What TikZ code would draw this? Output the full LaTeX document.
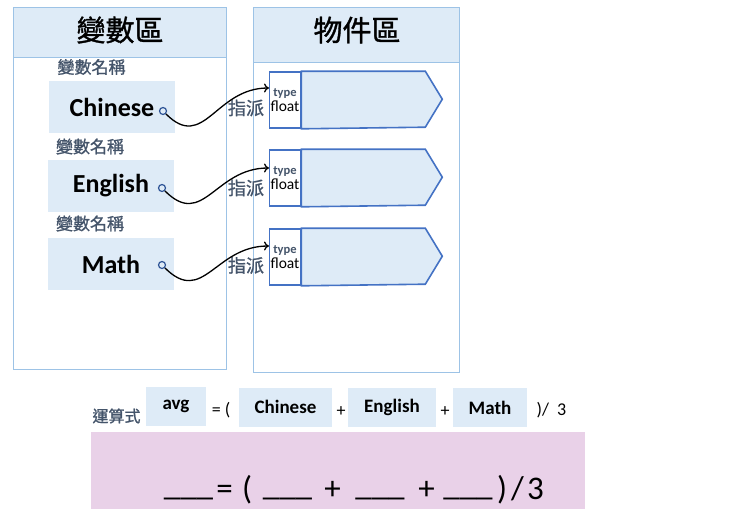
\documentclass[tikz,border=0pt]{standalone}
\usepackage{fontspec}
\setmainfont{Carlito}
\newfontfamily\cjk{Noto Sans CJK TC}[FakeBold=1.2]
\usetikzlibrary{calc,arrows.meta}

\definecolor{paneline}{HTML}{9DC3E6}
\definecolor{palefill}{HTML}{DEEBF7}
\definecolor{objline}{HTML}{4472C4}
\definecolor{labelgray}{HTML}{44546A}
\definecolor{dotblue}{HTML}{2F5597}
\definecolor{pinkfill}{HTML}{E9D1E8}

\tikzset{
 headtxt/.style={font=\cjk\fontsize{29}{29}\selectfont},
 namelabel/.style={font=\cjk\fontsize{17}{17}\selectfont, text=labelgray},
 varbox/.style={fill=palefill, minimum width=126pt, minimum height=52pt, inner sep=0pt, font=\fontsize{26}{26}\selectfont\bfseries},
 refdot/.style={circle, draw=dotblue, line width=1.2pt, minimum size=7pt, inner sep=0pt, fill=palefill},
 typecell/.style={draw=objline, fill=white, line width=1.6pt, minimum width=31pt, minimum height=56pt, inner sep=0pt, align=center},
 valbox/.style={draw=objline, fill=palefill, line width=1.6pt, line join=miter},
 assign/.style={-{To[length=5pt,width=9pt]}, line width=1.3pt},
 eqbox/.style={fill=palefill, minimum height=39pt, inner sep=0pt, font=\fontsize{19}{19}\selectfont\bfseries},
 eqtxt/.style={font=\fontsize{18}{18}\selectfont},
 bigtxt/.style={font=\fontsize{33}{33}\selectfont, anchor=base},
}

\begin{document}
\begin{tikzpicture}[x=1pt,y=-1pt]
 \useasboundingbox (0,0) rectangle (741,522);

 % variable area
 \filldraw[fill=palefill, draw=paneline] (13,7) rectangle (226,57);
 \draw[paneline] (13,7) rectangle (226,369);
 \node[headtxt] (varhead) at (120,30) {變數區};

 % object area
 \filldraw[fill=palefill, draw=paneline] (253,7) rectangle (459,62);
 \draw[paneline] (253,7) rectangle (459,372);
 \node[headtxt] (objhead) at (357,30) {物件區};

 % variable names
 \node[namelabel] (lab1) at (91.5,67) {變數名稱};
 \node[varbox] (chinese) at (112,107) {Chinese};
 \node[refdot] (d1) at (163,111) {};

 \node[namelabel] (lab2) at (90,146.5) {變數名稱};
 \node[varbox] (english) at (111,186) {English};
 \node[refdot] (d2) at (162,188) {};

 \node[namelabel] (lab3) at (90,223.5) {變數名稱};
 \node[varbox] (math) at (111,264) {Math};
 \node[refdot] (d3) at (162,265) {};

 % objects
 \node[typecell] (t1) at (285,100) {\textcolor{labelgray}{\fontsize{12.5}{14}\selectfont\bfseries type}\\[1pt]{\fontsize{15.5}{16}\selectfont float}};
 \filldraw[valbox] (t1.north east) -- ++(124,0) -- ++(17,28) -- ++(-17,28) -- (t1.south east) -- cycle;
 \coordinate (a1) at (269,88);

 \node[typecell] (t2) at (285,178) {\textcolor{labelgray}{\fontsize{12.5}{14}\selectfont\bfseries type}\\[1pt]{\fontsize{15.5}{16}\selectfont float}};
 \filldraw[valbox] (t2.north east) -- ++(124,0) -- ++(17,28) -- ++(-17,28) -- (t2.south east) -- cycle;
 \coordinate (a2) at (269,168);

 \node[typecell] (t3) at (285,257) {\textcolor{labelgray}{\fontsize{12.5}{14}\selectfont\bfseries type}\\[1pt]{\fontsize{15.5}{16}\selectfont float}};
 \filldraw[valbox] (t3.north east) -- ++(124,0) -- ++(17,28) -- ++(-17,28) -- (t3.south east) -- cycle;
 \coordinate (a3) at (269,246);

 % assignments
 \node[namelabel, font=\cjk\fontsize{18}{18}\selectfont] (as1) at (246,108) {指派};
 \node[namelabel, font=\cjk\fontsize{18}{18}\selectfont] (as2) at (246,188) {指派};
 \node[namelabel, font=\cjk\fontsize{18}{18}\selectfont] (as3) at (246,265.5) {指派};
 \draw[assign] (d1) to[out=-45,in=180,looseness=1.3] (a1);
 \draw[assign] (d2) to[out=-45,in=180,looseness=1.3] (a2);
 \draw[assign] (d3) to[out=-45,in=180,looseness=1.3] (a3);

 % expression
 \node[namelabel, font=\cjk\fontsize{16}{16}\selectfont] (expr) at (116.5,416) {運算式};
 \node[eqbox, minimum width=60pt] (eavg) at (176,406) {avg};
 \node[eqtxt] (eq1) at (221,410) {=\ (};
 \node[eqbox, minimum width=93pt] (echi) at (285.5,407) {Chinese};
 \node[eqtxt] (pl1) at (341,412) {+};
 \node[eqbox, minimum width=88pt] (eeng) at (392,407.5) {English};
 \node[eqtxt] (pl2) at (445,412) {+};
 \node[eqbox, minimum width=74pt] (emat) at (490,407.5) {Math};
 \node[eqtxt] (eq2) at (551.5,410) {)/\ \ 3};

 % fill in the blanks
 \fill[pinkfill] (91,432) rectangle (585,509);
 \node[bigtxt] (b1) at (188.5,495) {\_\_\_};
 \node[bigtxt] (f1) at (224.5,499) {=};
 \node[bigtxt] (f2) at (247,499) {(};
 \node[bigtxt] (b2) at (287.5,495) {\_\_\_};
 \node[bigtxt] (f3) at (332.5,499) {+};
 \node[bigtxt] (b3) at (380,495) {\_\_\_};
 \node[bigtxt] (f4) at (426.5,499) {+};
 \node[bigtxt] (b4) at (468,495) {\_\_\_};
 \node[bigtxt] (f5) at (502,499) {)};
 \node[bigtxt] (f6) at (517.5,499) {/};
 \node[bigtxt] (f7) at (535.5,499) {3};
\end{tikzpicture}
\end{document}
